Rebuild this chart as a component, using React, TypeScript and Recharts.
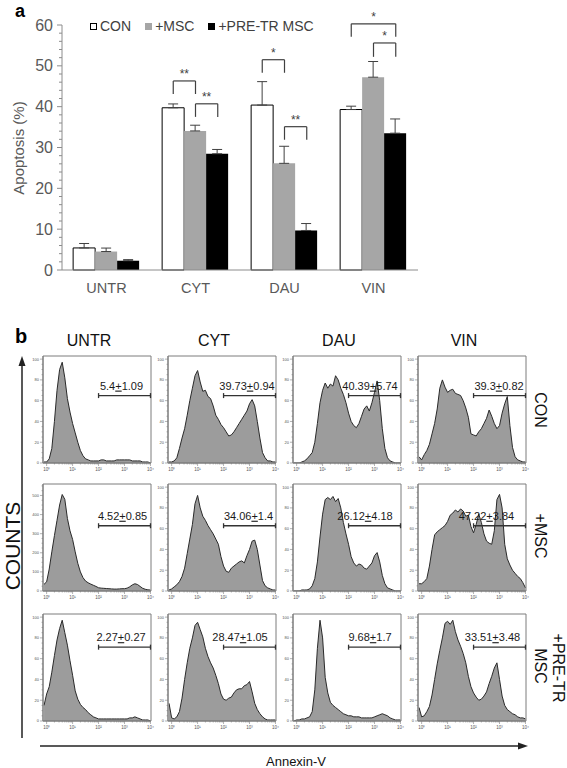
import React from "react";
import {
  ComposedChart,
  AreaChart,
  Area,
  Bar,
  ErrorBar,
  XAxis,
  YAxis,
  ReferenceLine,
  ReferenceArea,
  Legend,
} from "recharts";

const FONT = "'Liberation Sans', Arial, Helvetica, sans-serif";
const TXT = "#595959";
const AXIS = "#8c8c8c";
const BOX = "#7d7d7d";

// ---------- panel a: apoptosis (%) mean and SD ----------
const categories = ["UNTR", "CYT", "DAU", "VIN"];
const seriesNames = ["CON", "+MSC", "+PRE-TR MSC"];
const conMean = [5.4, 39.73, 40.39, 39.3];
const conSd = [1.09, 0.94, 5.74, 0.82];
const mscMean = [4.52, 34.06, 26.12, 47.22];
const mscSd = [0.85, 1.4, 4.18, 3.84];
const preMean = [2.27, 28.47, 9.68, 33.51];
const preSd = [0.27, 1.05, 1.7, 3.48];

// significance brackets: category index, bars compared (0 CON, 1 MSC, 2 PRE), level of bar and legs
const brackets = [
  { cat: 1, from: 0, to: 1, top: 46.3, leg: 43.1, label: "**" },
  { cat: 1, from: 1, to: 2, top: 40.7, leg: 37.5, label: "**" },
  { cat: 2, from: 0, to: 1, top: 51.5, leg: 48.3, label: "*" },
  { cat: 2, from: 1, to: 2, top: 35.1, leg: 31.9, label: "**" },
  { cat: 3, from: 0, to: 2, top: 60.3, leg: 57.1, label: "*" },
  { cat: 3, from: 1, to: 2, top: 55.6, leg: 52.2, label: "*" },
];

const barData = categories.map((cat, i) => ({
  cat,
  pos: i + 0.5,
  con: conMean[i],
  conErr: [0, conSd[i]],
  msc: mscMean[i],
  mscErr: [0, mscSd[i]],
  pre: preMean[i],
  preErr: [0, preSd[i]],
}));

// three bars fill the middle 75% of each category band
const barCenter = (cat: number, k: number) => cat + 0.25 + 0.25 * k;
const yTicksA = Array.from({ length: 31 }, (_, i) => i * 2);

// ---------- panel b: Annexin-V histograms ----------
const logBins = [
  -0.1, 0, 0.1, 0.2, 0.3, 0.4, 0.5, 0.6, 0.7, 0.8, 0.9, 1.0, 1.1, 1.2, 1.3, 1.4, 1.5, 1.6, 1.7, 1.8, 1.9,
  2.0, 2.1, 2.2, 2.3, 2.4, 2.5, 2.6, 2.7, 2.8, 2.9, 3.0, 3.1, 3.2, 3.3, 3.4, 3.5, 3.6, 3.7, 3.8, 3.9, 4.0,
];

const untrCon = [1, 1, 4, 14, 40, 70, 90, 97, 82, 62, 49, 38, 29, 20, 12, 7, 4, 3, 2, 2, 2, 2, 3, 3, 2, 2, 2, 2, 3, 3, 3, 3, 3, 3, 2, 2, 2, 2, 1, 1, 1, 0];
const cytCon = [1, 1, 2, 5, 14, 24, 33, 46, 60, 72, 84, 89, 78, 69, 70, 64, 62, 55, 46, 42, 37, 34, 30, 26, 27, 30, 34, 38, 42, 46, 50, 57, 61, 55, 40, 24, 10, 5, 2, 2, 1, 1];
const dauCon = [0, 0, 0, 1, 2, 4, 7, 10, 20, 38, 58, 70, 77, 72, 76, 74, 84, 80, 72, 66, 58, 48, 40, 36, 34, 38, 45, 52, 55, 50, 58, 68, 79, 60, 33, 14, 5, 2, 1, 0, 0, 0];
const vinCon = [6, 3, 8, 12, 18, 28, 38, 52, 72, 80, 73, 68, 70, 71, 67, 66, 65, 60, 53, 44, 28, 27, 26, 30, 33, 38, 43, 51, 45, 38, 33, 36, 48, 57, 64, 36, 15, 6, 3, 2, 1, 1];

const untrMsc = [35, 48, 115, 205, 290, 370, 450, 505, 480, 380, 315, 270, 205, 145, 100, 70, 52, 43, 36, 30, 24, 17, 15, 14, 13, 12, 11, 10, 10, 11, 12, 12, 15, 22, 32, 38, 34, 24, 14, 9, 6, 5];
const cytMsc = [1, 2, 4, 6, 9, 14, 22, 36, 50, 64, 84, 92, 80, 72, 68, 63, 59, 55, 50, 45, 33, 24, 19, 18, 22, 24, 26, 28, 29, 27, 34, 40, 48, 49, 40, 25, 10, 5, 3, 2, 1, 1];
const dauMsc = [0, 0, 0, 1, 1, 1, 2, 5, 12, 28, 52, 74, 88, 90, 88, 91, 86, 89, 80, 66, 55, 45, 33, 27, 24, 26, 25, 22, 21, 24, 27, 34, 37, 28, 15, 7, 3, 2, 1, 0, 0, 0];
const vinMsc = [7, 7, 9, 12, 24, 40, 54, 57, 59, 61, 63, 67, 73, 75, 78, 76, 79, 77, 72, 73, 62, 56, 64, 74, 66, 55, 48, 46, 45, 58, 88, 93, 80, 45, 31, 25, 20, 17, 14, 12, 8, 3];

const untrPre = [15, 26, 33, 47, 63, 78, 89, 97, 85, 73, 58, 44, 29, 21, 16, 13, 11, 8, 6, 4, 3, 2, 2, 2, 2, 2, 2, 2, 2, 2, 2, 2, 2, 3, 3, 4, 3, 2, 1, 1, 1, 0];
const cytPre = [17, 3, 2, 4, 9, 22, 40, 56, 70, 80, 92, 95, 88, 81, 70, 62, 56, 51, 44, 36, 26, 21, 20, 22, 23, 27, 30, 31, 31, 34, 35, 38, 28, 17, 11, 7, 4, 2, 1, 1, 1, 1];
const dauPre = [0, 1, 1, 2, 2, 3, 4, 9, 30, 70, 97, 80, 42, 27, 18, 15, 13, 11, 9, 7, 6, 5, 5, 4, 4, 4, 3, 3, 3, 3, 3, 4, 5, 6, 7, 6, 5, 3, 2, 1, 1, 1];
const vinPre = [13, 4, 5, 9, 14, 25, 40, 55, 68, 80, 94, 96, 93, 97, 86, 78, 72, 65, 56, 43, 33, 27, 23, 20, 21, 24, 28, 36, 43, 51, 56, 40, 24, 15, 11, 9, 7, 6, 4, 3, 3, 2];

const histRows = [
  [untrCon, cytCon, dauCon, vinCon],
  [untrMsc, cytMsc, dauMsc, vinMsc],
  [untrPre, cytPre, dauPre, vinPre],
];
const meanRows = [conMean, mscMean, preMean];
const sdRows = [conSd, mscSd, preSd];
const countMax = [
  [103, 103, 103, 103],
  [560, 103, 103, 103],
  [103, 103, 103, 103],
];

// layout of the histogram grid
const boxLeft = [43, 168, 293, 418];
const rowTop = [356, 484, 614];
const gateFrac = [0.63, 0.61, 0.69];
const gateLabelShift = [
  [-3, -2.5, -4.5, -0.5],
  [-2, -1, -9.5, -13],
  [-3.5, -9.5, -4.5, -7],
];

const majorDecades = [0, 1, 2, 3, 4];
const minorLog = [0, 1, 2, 3].flatMap((d) => [2, 3, 4, 5, 6, 7, 8, 9].map((k) => d + Math.log10(k)));
const xTicksB = [...majorDecades, ...minorLog];
const supers = ["\u2070", "\u00b9", "\u00b2", "\u00b3", "\u2074"];

function ATick(props: any) {
  const { x, y, payload } = props;
  const v = payload.value;
  const major = v % 10 === 0;
  const ax = x + 9;
  return (
    <g>
      <line x1={ax - (major ? 5 : 3)} x2={ax} y1={y} y2={y} stroke={AXIS} />
      {major && (
        <text x={x} y={y} dy="0.35em" textAnchor="end" fontSize={16} fill={TXT} fontFamily={FONT}>
          {v}
        </text>
      )}
    </g>
  );
}

function LogTick(props: any) {
  const { x, y, payload } = props;
  const v = payload.value;
  const major = majorDecades.includes(v);
  const ay = y - 4;
  return (
    <g>
      <line x1={x} x2={x} y1={ay} y2={ay + (major ? 3 : 1.5)} stroke={BOX} strokeWidth={0.6} />
      {major && (
        <text x={x} y={ay + 8} textAnchor="middle" fontSize={4.5} fill="#555" fontFamily={FONT}>
          {"10" + supers[v]}
        </text>
      )}
    </g>
  );
}

function CountTick(props: any) {
  const { x, y, payload, majorStep } = props;
  const v = payload.value;
  const major = v % majorStep === 0;
  const ax = x + 4;
  return (
    <g>
      <line x1={ax - (major ? 3 : 1.5)} x2={ax} y1={y} y2={y} stroke={BOX} strokeWidth={0.6} />
      {major && (
        <text x={ax - 4} y={y} dy="0.35em" textAnchor="end" fontSize={4} fill="#555" fontFamily={FONT}>
          {v}
        </text>
      )}
    </g>
  );
}

function renderLegend(props: any) {
  const items = [...(props.payload ?? [])].sort(
    (a: any, b: any) => seriesNames.indexOf(a.value) - seriesNames.indexOf(b.value)
  );
  return (
    <div style={{ display: "flex", alignItems: "center", fontFamily: FONT, fontSize: 14, color: "#404040", whiteSpace: "nowrap" }}>
      {items.map((e: any) => {
        const white = String(e.color).toLowerCase() === "#ffffff";
        return (
          <span key={e.value} style={{ display: "flex", alignItems: "center", marginRight: 14 }}>
            <span
              style={{
                display: "inline-block",
                width: 7,
                height: 7,
                boxSizing: "border-box",
                background: e.color,
                border: `1px solid ${white ? "#000" : e.color}`,
                marginRight: 3,
              }}
            />
            {e.value}
          </span>
        );
      })}
    </div>
  );
}

function PanelA() {
  return (
    <ComposedChart
      width={430}
      height={300}
      data={barData}
      margin={{ top: 25, right: 12, bottom: 0, left: 22 }}
      barCategoryGap="12.5%"
      barGap={0}
    >
      <XAxis
        dataKey="cat"
        height={30}
        tickLine={false}
        axisLine={{ stroke: AXIS }}
        tick={{ fontSize: 14.5, fill: TXT, fontFamily: FONT }}
        tickSize={6}
        tickMargin={7}
      />
      <XAxis xAxisId="n" dataKey="pos" type="number" domain={[0, 4]} allowDataOverflow hide />
      <YAxis
        domain={[0, 60]}
        ticks={yTicksA}
        interval={0}
        width={40}
        tickLine={false}
        tickSize={5}
        tickMargin={4}
        axisLine={{ stroke: AXIS }}
        tick={<ATick />}
      />
      <Legend
        content={renderLegend}
        layout="horizontal"
        align="center"
        verticalAlign="middle"
        wrapperStyle={{ left: 90, top: 18, width: "auto" }}
      />
      <Bar dataKey="con" name={seriesNames[0]} fill="#ffffff" stroke="#000000" strokeWidth={1} isAnimationActive={false}>
        <ErrorBar dataKey="conErr" width={5} stroke="#404040" strokeWidth={1} direction="y" />
      </Bar>
      <Bar dataKey="msc" name={seriesNames[1]} fill="#a6a6a6" isAnimationActive={false}>
        <ErrorBar dataKey="mscErr" width={5} stroke="#404040" strokeWidth={1} direction="y" />
      </Bar>
      <Bar dataKey="pre" name={seriesNames[2]} fill="#000000" isAnimationActive={false}>
        <ErrorBar dataKey="preErr" width={5} stroke="#404040" strokeWidth={1} direction="y" />
      </Bar>
      {brackets.map((b, i) => {
        const xa = barCenter(b.cat, b.from);
        const xb = barCenter(b.cat, b.to);
        return (
          <React.Fragment key={i}>
            <ReferenceLine
              xAxisId="n"
              segment={[{ x: xa, y: b.leg }, { x: xa, y: b.top }]}
              stroke="#404040"
              strokeWidth={1.2}
              ifOverflow="visible"
            />
            <ReferenceLine
              xAxisId="n"
              segment={[{ x: xb, y: b.leg }, { x: xb, y: b.top }]}
              stroke="#404040"
              strokeWidth={1.2}
              ifOverflow="visible"
            />
            <ReferenceLine
              xAxisId="n"
              segment={[{ x: xa, y: b.top }, { x: xb, y: b.top }]}
              stroke="#404040"
              strokeWidth={1.2}
              ifOverflow="visible"
              label={{ value: b.label, position: "top", offset: 3, fontSize: 12, fill: "#404040", fontFamily: FONT }}
            />
          </React.Fragment>
        );
      })}
    </ComposedChart>
  );
}

const gateLabel = (mean: number, sd: number, shift: number) => (props: any) => {
  const vb = props.viewBox ?? props;
  const cx = vb.x + (vb.width ?? 0) / 2 + shift;
  return (
    <text x={cx} y={vb.y - 6} textAnchor="middle" fontSize={11} fill="#1a1a1a" fontFamily={FONT}>
      {String(mean)}
      <tspan style={{ textDecoration: "underline" }}>+</tspan>
      {String(sd)}
    </text>
  );
};

function Histo({ r, c }: { r: number; c: number }) {
  const counts = histRows[r][c];
  const yMax = countMax[r][c];
  const majorStep = yMax > 200 ? 100 : 20;
  const minorStep = majorStep / 4;
  const yTicks = Array.from({ length: Math.floor(yMax / minorStep) + 1 }, (_, i) => i * minorStep);
  const data = logBins.map((x, i) => ({ x, y: counts[i] }));
  const gate = gateFrac[r] * yMax;
  const cap = (2.5 / 107) * yMax;
  return (
    <AreaChart width={128} height={123} data={data} margin={{ top: 2, right: 4, bottom: 0, left: 0 }}>
      <XAxis
        dataKey="x"
        type="number"
        domain={[-0.14, 4.02]}
        allowDataOverflow
        ticks={xTicksB}
        interval={0}
        height={14}
        tickLine={false}
        tickSize={3}
        tickMargin={1}
        axisLine={{ stroke: BOX }}
        tick={<LogTick />}
      />
      <YAxis
        type="number"
        domain={[0, yMax]}
        allowDataOverflow
        ticks={yTicks}
        interval={0}
        width={16}
        tickLine={false}
        tickSize={3}
        tickMargin={1}
        axisLine={{ stroke: BOX }}
        tick={<CountTick majorStep={majorStep} />}
      />
      <Area
        type="linear"
        dataKey="y"
        stroke="#2a2a2a"
        strokeWidth={1}
        fill="#9c9c9c"
        fillOpacity={1}
        dot={false}
        activeDot={false}
        isAnimationActive={false}
      />
      <ReferenceArea x1={-0.14} x2={4.02} y1={0} y2={yMax} fill="none" stroke={BOX} strokeWidth={1} ifOverflow="visible" />
      <ReferenceLine
        segment={[{ x: 2, y: gate }, { x: 4, y: gate }]}
        stroke="#333"
        strokeWidth={1.3}
        ifOverflow="visible"
        label={gateLabel(meanRows[r][c], sdRows[r][c], gateLabelShift[r][c])}
      />
      <ReferenceLine segment={[{ x: 2, y: gate - cap }, { x: 2, y: gate + cap }]} stroke="#333" strokeWidth={1.3} ifOverflow="visible" />
      <ReferenceLine segment={[{ x: 4, y: gate - cap }, { x: 4, y: gate + cap }]} stroke="#333" strokeWidth={1.3} ifOverflow="visible" />
    </AreaChart>
  );
}

export default function App() {
  return (
    <div style={{ position: "absolute", left: 0, top: 0, width: 567, height: 768, background: "#fff", fontFamily: FONT }}>
      <div style={{ position: "absolute", left: 0, top: 0 }}>
        <PanelA />
      </div>
      {histRows.map((row, r) =>
        row.map((_, c) => (
          <div key={`${r}-${c}`} style={{ position: "absolute", left: boxLeft[c] - 16, top: rowTop[r] - 2 }}>
            <Histo r={r} c={c} />
          </div>
        ))
      )}
      <svg
        width={567}
        height={768}
        style={{ position: "absolute", left: 0, top: 0, pointerEvents: "none" }}
        fontFamily={FONT}
      >
        <text x={15} y={16.5} fontSize={18} fontWeight="bold" fill="#000">a</text>
        <text x={15} y={343} fontSize={20} fontWeight="bold" fill="#000">b</text>
        <text x={24} y={148} transform="rotate(-90 24 148)" textAnchor="middle" fontSize={15} fill={TXT}>
          Apoptosis (%)
        </text>
        {categories.map((cat, i) => (
          <text key={cat} x={89 + 125 * i} y={346} textAnchor="middle" fontSize={16} fill="#111">
            {cat}
          </text>
        ))}
        <text x={535} y={410} transform="rotate(90 535 410)" textAnchor="middle" fontSize={16} fill="#111">
          {seriesNames[0]}
        </text>
        <text x={535} y={536} transform="rotate(90 535 536)" textAnchor="middle" fontSize={16} fill="#111">
          {seriesNames[1]}
        </text>
        <text x={553} y={668} transform="rotate(90 553 668)" textAnchor="middle" fontSize={16} fill="#111">
          {seriesNames[2].split(" ")[0]}
        </text>
        <text x={535} y={666} transform="rotate(90 535 666)" textAnchor="middle" fontSize={16} fill="#111">
          {seriesNames[2].split(" ")[1]}
        </text>
        <text x={20} y={546} transform="rotate(-90 20 546)" textAnchor="middle" fontSize={21} fill="#111">
          COUNTS
        </text>
        <line x1={22} y1={738} x2={22} y2={364} stroke="#222" strokeWidth={1.5} />
        <polygon points="22,356 18.5,366 25.5,366" fill="#222" />
        <line x1={40} y1={746} x2={520} y2={746} stroke="#222" strokeWidth={1.5} />
        <polygon points="528,746 518,742.5 518,749.5" fill="#222" />
        <text x={296} y={766} textAnchor="middle" fontSize={13} fill="#111">
          Annexin-V
        </text>
      </svg>
    </div>
  );
}
